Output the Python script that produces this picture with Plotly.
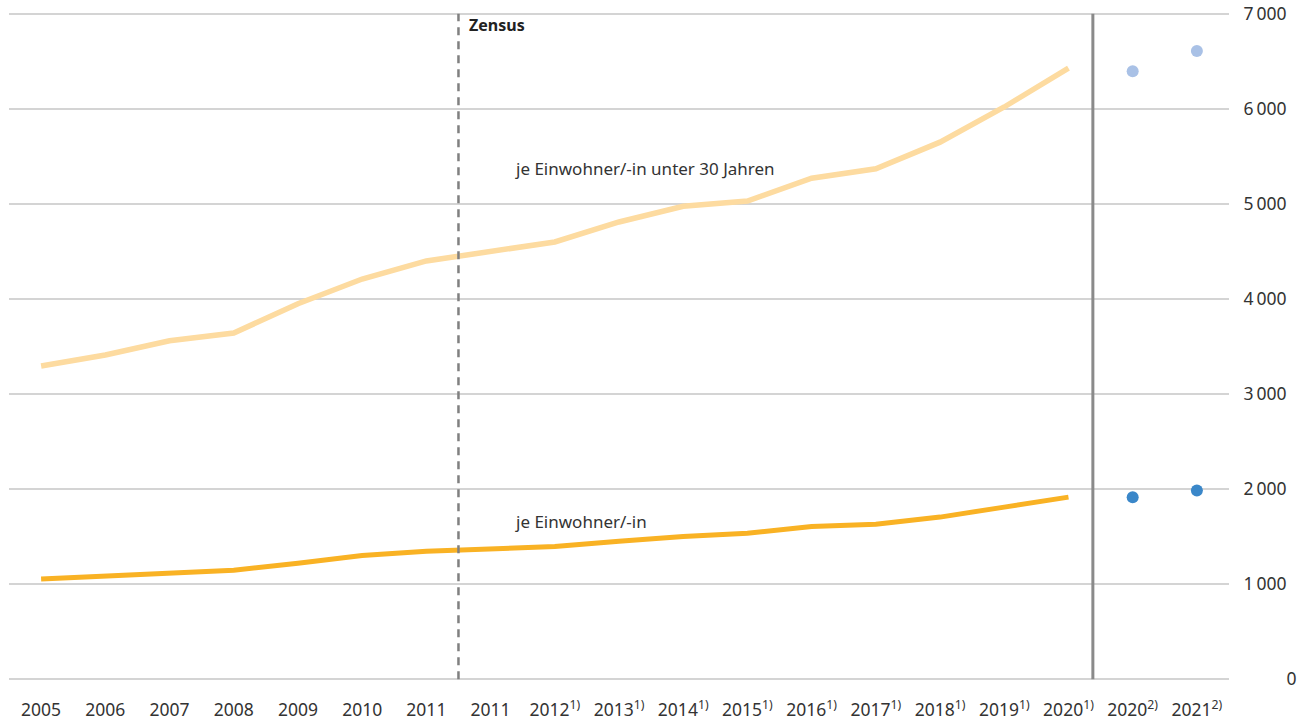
import plotly.graph_objects as go

# ---- data ----
x_labels = ["2005", "2006", "2007", "2008", "2009", "2010", "2011", "2011",
            "2012<sup>1)</sup>", "2013<sup>1)</sup>", "2014<sup>1)</sup>", "2015<sup>1)</sup>",
            "2016<sup>1)</sup>", "2017<sup>1)</sup>", "2018<sup>1)</sup>", "2019<sup>1)</sup>",
            "2020<sup>1)</sup>", "2020<sup>2)</sup>", "2021<sup>2)</sup>"]
under30_line = [3295, 3410, 3560, 3642, 3950, 4210, 4400, 4500, 4600, 4810,
                4975, 5030, 5270, 5370, 5650, 6020, 6430]
per_capita_line = [1053, 1084, 1122, 1145, 1220, 1300, 1345, 1370, 1395, 1450,
                   1500, 1535, 1605, 1630, 1705, 1810, 1915]
under30_dots = [6395, 6610]
per_capita_dots = [1915, 1985]
y_ticks = [0, 1000, 2000, 3000, 4000, 5000, 6000, 7000]
y_ticktext = ["\u2007\u2009\u2007\u2007\u20070", "1\u2009000", "2\u2009000", "3\u2009000",
              "4\u2009000", "5\u2009000", "6\u2009000", "7\u2009000"]

n_line = len(under30_line)
x_line = list(range(n_line))
x_dots = [n_line, n_line + 1]
zensus_pos = 6.5
break_pos = 16.38

FONT = "Noto Sans"
TXT = "#333333"

fig = go.Figure()
fig.add_trace(go.Scatter(x=x_line, y=under30_line, mode="lines",
                         line=dict(color="#FDDBA0", width=5.5), hoverinfo="y"))
fig.add_trace(go.Scatter(x=x_line, y=per_capita_line, mode="lines",
                         line=dict(color="#F9B224", width=5), hoverinfo="y"))
fig.add_trace(go.Scatter(x=x_dots, y=under30_dots, mode="markers",
                         marker=dict(color="#A9C1E6", size=12), hoverinfo="y"))
fig.add_trace(go.Scatter(x=x_dots, y=per_capita_dots, mode="markers",
                         marker=dict(color="#3A87C9", size=12), hoverinfo="y"))

fig.add_shape(type="line", xref="x", yref="y", x0=zensus_pos, x1=zensus_pos, y0=0, y1=7000,
              line=dict(color="#808080", width=2.5, dash="8px,6px"))
fig.add_shape(type="line", xref="x", yref="y", x0=break_pos, x1=break_pos, y0=0, y1=7000,
              line=dict(color="#8a8a8a", width=3))

fig.add_annotation(x=zensus_pos, y=7000, xref="x", yref="y", text="<b>Zensus</b>",
                   showarrow=False, xanchor="left", yanchor="top", xshift=9, yshift=2,
                   font=dict(family=FONT, size=16, color="#222222"))
fig.add_annotation(x=7.35, y=5370, xref="x", yref="y", text="je Einwohner/-in unter 30 Jahren",
                   showarrow=False, xanchor="left", yanchor="middle",
                   font=dict(family=FONT, size=17, color=TXT))
fig.add_annotation(x=7.35, y=1660, xref="x", yref="y", text="je Einwohner/-in",
                   showarrow=False, xanchor="left", yanchor="middle",
                   font=dict(family=FONT, size=17, color=TXT))

fig.update_layout(
    width=1303, height=722,
    margin=dict(l=9, r=74, t=11, b=40),
    paper_bgcolor="white", plot_bgcolor="white",
    showlegend=False,
    font=dict(family=FONT, size=17, color=TXT),
    xaxis=dict(range=[-0.5, len(x_labels) - 0.5], tickvals=list(range(len(x_labels))),
               ticktext=x_labels, showgrid=False, zeroline=False, showline=False,
               ticks="outside", ticklen=12, tickcolor="rgba(0,0,0,0)", automargin=False,
               ticklabeloverflow="allow",
               tickfont=dict(family=FONT, size=17.5, color=TXT), fixedrange=True),
    yaxis=dict(range=[-30, 7030], side="right", tickvals=y_ticks, ticktext=y_ticktext,
               showgrid=True, gridcolor="#d4d4d4", gridwidth=1.5, zeroline=False,
               showline=False, ticks="outside", ticklen=10, tickcolor="rgba(0,0,0,0)",
               automargin=False, ticklabeloverflow="allow",
               tickfont=dict(family=FONT, size=17.5, color=TXT), fixedrange=True),
)

fig.write_html("out.html", config={"displayModeBar": False},
               post_script="document.body.style.margin='0';document.body.style.overflow='hidden';")
